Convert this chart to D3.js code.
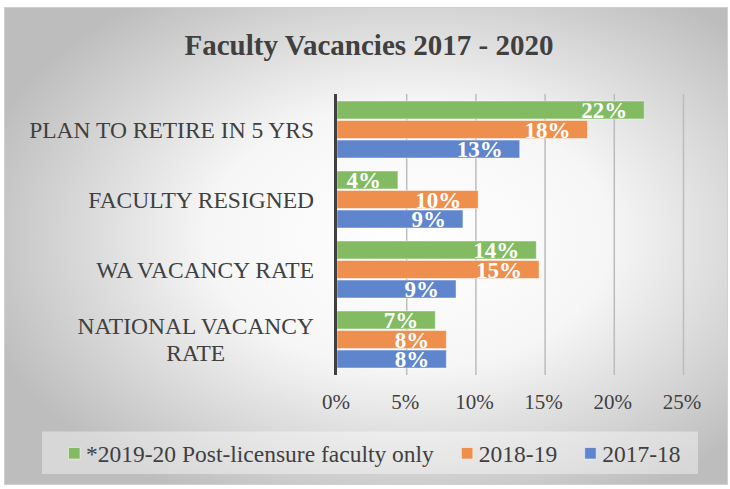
<!DOCTYPE html>
<html>
<head>
<meta charset="utf-8">
<script src="https://cdn.jsdelivr.net/npm/d3@7"></script>
<style>
  body { margin: 0; background: #fff; }
  svg { display: block; font-family: "Liberation Serif", "Times New Roman", serif; }
</style>
</head>
<body>
<div id="chart"></div>
<script>
/* Data */
const CATEGORIES = ['PLAN TO RETIRE IN 5 YRS', 'FACULTY RESIGNED', 'WA VACANCY RATE', 'NATIONAL VACANCY RATE'];
const SERIES = ['*2019-20 Post-licensure faculty only', '2018-19', '2017-18'];
const VALUES_2019 = [22.2, 4.4, 14.4, 7.1];
const VALUES_2018 = [18.1, 10.2, 14.6, 7.9];
const VALUES_2017 = [13.2, 9.1, 8.6, 7.9];
const TICKS = [0, 5, 10, 15, 20, 25];
const COLORS = ['#82bb62', '#ef8f4e', '#5f86cd'];

const SERIES_VALUES = [VALUES_2019, VALUES_2018, VALUES_2017];

const W = 730, H = 489;
const svg = d3.select('#chart').append('svg')
  .attr('width', W).attr('height', H);

/* Background */
const defs = svg.append('defs');
const grad = defs.append('radialGradient')
  .attr('id', 'bg')
  .attr('cx', '0.56').attr('cy', '0.48').attr('r', '0.62');
grad.append('stop').attr('offset', '0%').attr('stop-color', '#ffffff');
grad.append('stop').attr('offset', '45%').attr('stop-color', '#f6f6f6');
grad.append('stop').attr('offset', '100%').attr('stop-color', '#bdbdbd');

svg.append('rect')
  .attr('x', 4.5).attr('y', 7.5).attr('width', 723).attr('height', 477)
  .attr('fill', 'url(#bg)')
  .attr('stroke', '#d0d0d0').attr('stroke-width', 1);

/* Title */
svg.append('text')
  .attr('x', 369).attr('y', 55)
  .attr('text-anchor', 'middle')
  .attr('font-size', 29).attr('font-weight', 'bold')
  .attr('fill', '#404040')
  .text('Faculty Vacancies 2017 - 2020');

/* Scales */
const x = d3.scaleLinear().domain([0, 25]).range([337, 683]);
const y0 = d3.scaleBand().domain(CATEGORIES).range([94.5, 374.5]).padding(0);
const y1 = d3.scaleBand().domain(SERIES).range([6.5, 63.5]).paddingInner(0.08);

/* Gridlines */
const grid = svg.append('g')
  .attr('transform', 'translate(0,94)')
  .call(d3.axisBottom(x).tickValues(TICKS.slice(1)).tickSize(281).tickFormat(''));
grid.select('.domain').remove();
grid.selectAll('.tick line').attr('stroke', '#bcbcbc').attr('stroke-width', 1.5);

/* Tick labels */
const xAxis = svg.append('g')
  .attr('transform', 'translate(-1.5,390)')
  .call(d3.axisBottom(x).tickValues(TICKS).tickSize(0).tickFormat(function(d) { return d + '%'; }));
xAxis.select('.domain').remove();
xAxis.selectAll('.tick text')
  .attr('font-size', 21)
  .attr('font-family', '"Liberation Serif", "Times New Roman", serif')
  .attr('fill', '#404040')
  .attr('dy', 0).attr('y', 19);

/* Bars */
const groups = svg.selectAll('g.cat')
  .data(CATEGORIES)
  .enter().append('g')
  .attr('class', 'cat')
  .attr('transform', function(d) { return 'translate(0,' + y0(d) + ')'; });

groups.each(function(cat, ci) {
  const g = d3.select(this);
  const rows = SERIES.map(function(s, si) {
    return { s: s, v: SERIES_VALUES[si][ci], c: COLORS[si] };
  });
  g.selectAll('rect')
    .data(rows)
    .enter().append('rect')
    .attr('x', x(0))
    .attr('y', function(d) { return y1(d.s); })
    .attr('width', function(d) { return x(d.v) - x(0); })
    .attr('height', y1.bandwidth())
    .attr('fill', function(d) { return d.c; })
    .attr('stroke', 'rgba(255,255,255,0.45)')
    .attr('stroke-width', 1);
  g.selectAll('text.lbl')
    .data(rows)
    .enter().append('text')
    .attr('class', 'lbl')
    .attr('x', function(d) { return x(d.v) - 17; })
    .attr('y', function(d) { return y1(d.s) + y1.bandwidth() / 2; })
    .attr('dy', '0.35em')
    .attr('text-anchor', 'end')
    .attr('font-size', 23).attr('font-weight', 'bold')
    .attr('fill', '#ffffff')
    .text(function(d) { return Math.round(d.v) + '%'; });
});

/* Axis line */
svg.append('line')
  .attr('x1', x(0) - 1.5).attr('x2', x(0) - 1.5)
  .attr('y1', 94).attr('y2', 375)
  .attr('stroke', '#404040').attr('stroke-width', 3);

/* Category labels, wrapped when too wide */
const catLabels = svg.append('g');
CATEGORIES.forEach(function(cat) {
  const cy = y0(cat) + y0.bandwidth() / 2;
  const lines = cat.length > 20 && cat.indexOf('YRS') < 0
    ? [cat.slice(0, cat.lastIndexOf(' ')), cat.slice(cat.lastIndexOf(' ') + 1)]
    : [cat];
  const lh = 26.7;
  const t = catLabels.append('text')
    .attr('font-size', 23.5)
    .attr('fill', '#404040');
  lines.forEach(function(line, i) {
    t.append('tspan')
      .attr('y', cy + 8 + (i - (lines.length - 1) / 2) * lh)
      .text(line);
  });
  const widths = [];
  t.selectAll('tspan').each(function() { widths.push(this.getComputedTextLength()); });
  const maxW = d3.max(widths);
  t.attr('text-anchor', 'middle');
  t.selectAll('tspan').attr('x', 314 - maxW / 2);
});

/* Legend */
const legend = svg.append('g');
legend.append('rect')
  .attr('x', 42).attr('y', 431.5).attr('width', 656).attr('height', 42.5)
  .attr('fill', '#ffffff').attr('fill-opacity', 0.4);
let lx = 0;
const items = legend.append('g');
SERIES.forEach(function(s, i) {
  items.append('rect')
    .attr('x', lx).attr('y', 447.5).attr('width', 11.5).attr('height', 11.5)
    .attr('fill', COLORS[i])
    .attr('stroke', 'rgba(255,255,255,0.5)');
  const t = items.append('text')
    .attr('x', lx + 17.5).attr('y', 461.5)
    .attr('font-size', 23.5)
    .attr('fill', '#404040')
    .text(s);
  lx += 17.5 + t.node().getComputedTextLength() + 27.5;
});
const total = lx - 27.5;
items.attr('transform', 'translate(' + (374.5 - total / 2) + ',0)');
</script>
</body>
</html>
